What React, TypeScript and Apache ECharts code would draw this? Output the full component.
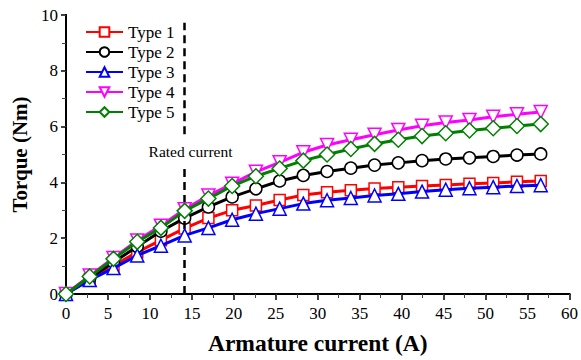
import React, { useEffect, useRef } from "react";
import * as echarts from "echarts";

const currents = [0, 2.83, 5.66, 8.49, 11.31, 14.14, 16.97, 19.8, 22.63, 25.46, 28.28, 31.11, 33.94, 36.77, 39.6, 42.43, 45.25, 48.08, 50.91, 53.74, 56.57];
const type1 = [0, 0.52, 1.02, 1.5, 1.93, 2.35, 2.72, 3.0, 3.17, 3.37, 3.55, 3.65, 3.72, 3.78, 3.83, 3.87, 3.91, 3.95, 3.98, 4.02, 4.05];
const type2 = [0, 0.57, 1.14, 1.7, 2.25, 2.72, 3.12, 3.48, 3.77, 4.05, 4.25, 4.39, 4.51, 4.62, 4.7, 4.78, 4.84, 4.88, 4.93, 4.98, 5.02];
const type3 = [0, 0.5, 0.93, 1.38, 1.73, 2.1, 2.37, 2.66, 2.88, 3.06, 3.24, 3.36, 3.44, 3.53, 3.59, 3.67, 3.74, 3.79, 3.83, 3.87, 3.9];
const type4 = [0, 0.66, 1.29, 1.92, 2.45, 3.04, 3.53, 3.95, 4.38, 4.72, 5.08, 5.34, 5.53, 5.71, 5.88, 6.03, 6.15, 6.24, 6.35, 6.44, 6.52];
const type5 = [0, 0.63, 1.26, 1.87, 2.37, 2.98, 3.42, 3.87, 4.22, 4.5, 4.78, 5.0, 5.2, 5.38, 5.53, 5.66, 5.76, 5.86, 5.94, 6.02, 6.09];
const seriesNames = ["Type 1", "Type 2", "Type 3", "Type 4", "Type 5"];
const ratedCurrent = 14.14;
const ratedLabel = "Rated current";

const FONT = "'Liberation Serif', 'Times New Roman', serif";

export default function App() {
  const ref = useRef<HTMLDivElement>(null);
  useEffect(() => {
    if (!ref.current) return;
    const chart = echarts.init(ref.current, null, { renderer: "svg" });
    const defs = [
      { data: type1, color: "#ff0000", symbol: "rect", size: 11 },
      { data: type2, color: "#000000", symbol: "circle", size: 12 },
      { data: type3, color: "#0000ff", symbol: "triangle", size: 13 },
      { data: type4, color: "#ff00ff", symbol: "path://M0,0 L10,0 L5,9 Z", size: 13 },
      { data: type5, color: "#008000", symbol: "diamond", size: 15 },
    ];
    const series: any[] = defs.map((d, i) => ({
      name: seriesNames[i],
      type: "line",
      data: currents.map((x, j) => [x, d.data[j]]),
      symbol: d.symbol,
      symbolSize: d.size,
      showAllSymbol: true,
      lineStyle: { color: d.color, width: 3 },
      itemStyle: { color: "#ffffff", borderColor: d.color, borderWidth: 1.5 },
      z: 3 + i,
    }));
    series.push({
      type: "line",
      data: [],
      silent: true,
      markLine: {
        silent: true,
        symbol: "none",
        animation: false,
        label: { show: false },
        lineStyle: { color: "#000", width: 2.5, type: [8, 5] },
        data: [
          [{ coord: [ratedCurrent, 0] }, { coord: [ratedCurrent, 4.55] }],
          [{ coord: [ratedCurrent, 5.73] }, { coord: [ratedCurrent, 9.72] }],
        ],
      },
      markPoint: {
        silent: true,
        symbol: "circle",
        symbolSize: 1,
        itemStyle: { color: "rgba(0,0,0,0)" },
        label: {
          show: true,
          position: "inside",
          formatter: ratedLabel,
          color: "#000",
          fontFamily: FONT,
          fontSize: 15.5,
        },
        data: [{ coord: [ratedCurrent + 0.7, 5.12] }],
      },
    });
    chart.setOption({
      animation: false,
      backgroundColor: "#fff",
      grid: { left: 66, right: 10, top: 15, bottom: 64 },
      legend: {
        data: seriesNames,
        orient: "vertical",
        left: 80,
        top: 18,
        itemWidth: 37,
        itemHeight: 12,
        itemGap: 2,
        textStyle: { fontFamily: FONT, fontSize: 17, color: "#000", lineHeight: 18 },
      },
      xAxis: [
        {
          type: "value",
          min: 0,
          max: 60,
          interval: 5,
          position: "bottom",
          name: "Armature current (A)",
          nameLocation: "middle",
          nameGap: 37,
          nameTextStyle: { fontFamily: FONT, fontSize: 23.5, fontWeight: "bold", color: "#000" },
          axisLine: { lineStyle: { color: "#000", width: 2 } },
          axisTick: { inside: false, length: 6, lineStyle: { color: "#000", width: 1.5 } },
          axisLabel: { fontFamily: FONT, fontSize: 17, color: "#000", margin: 11 },
          splitLine: { show: false },
        },
        {
          type: "value",
          min: 0,
          max: 60,
          interval: 2.5,
          position: "top",
          axisLine: { lineStyle: { color: "#000", width: 2 } },
          axisTick: { inside: true, length: 4, lineStyle: { color: "#444", width: 1 } },
          axisLabel: { show: false },
          splitLine: { show: false },
        },
      ],
      yAxis: [
        {
          type: "value",
          min: 0,
          max: 10,
          interval: 2,
          position: "left",
          name: "Torque (Nm)",
          nameLocation: "middle",
          nameGap: 35,
          nameTextStyle: { fontFamily: FONT, fontSize: 21, fontWeight: "bold", color: "#000" },
          axisLine: { lineStyle: { color: "#000", width: 2 } },
          axisTick: { inside: false, length: 5, lineStyle: { color: "#000", width: 1.5 } },
          axisLabel: { fontFamily: FONT, fontSize: 17, color: "#000", margin: 8 },
          splitLine: { show: false },
        },
        {
          type: "value",
          min: 0,
          max: 10,
          interval: 1,
          position: "right",
          axisLine: { show: true, lineStyle: { color: "#000", width: 2 } },
          axisTick: { inside: true, length: 4, lineStyle: { color: "#444", width: 1 } },
          axisLabel: { show: false },
          splitLine: { show: false },
        },
      ],
      series,
    });
    return () => chart.dispose();
  }, []);
  return <div ref={ref} style={{ width: 581, height: 360, position: "absolute", left: 0, top: 0 }} />;
}
